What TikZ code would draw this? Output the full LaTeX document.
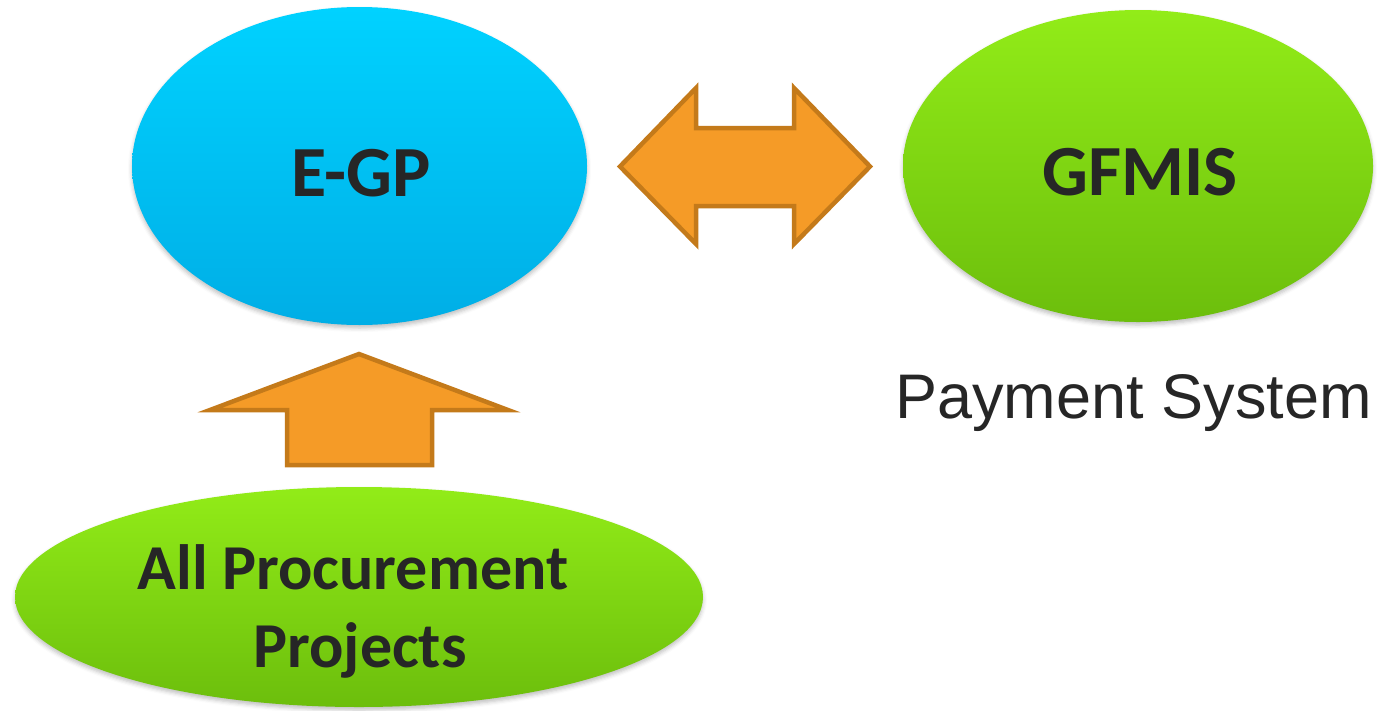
\documentclass[tikz,border=0pt]{standalone}
\usepackage{fontspec}
\setmainfont{Carlito}
\newfontfamily\arialfont{Liberation Sans}
\usetikzlibrary{shapes.geometric,shadows.blur}
\definecolor{txt}{HTML}{262626}
\definecolor{blueT}{HTML}{00D2FF}
\definecolor{blueB}{HTML}{00AEE6}
\definecolor{greenT}{HTML}{92EC18}
\definecolor{greenB}{HTML}{6CBE0C}
\definecolor{orFill}{HTML}{F59B27}
\definecolor{orLine}{HTML}{C47A1A}
\tikzset{
  blob/.style={ellipse, inner sep=0pt, draw=none,
    blur shadow={shadow xshift=0pt, shadow yshift=-3pt, shadow blur radius=4pt, shadow opacity=25}},
  bluebl/.style={blob, top color=blueT, bottom color=blueB},
  greenbl/.style={blob, top color=greenT, bottom color=greenB},
  biglbl/.style={anchor=base, inner sep=0pt, text=txt, font=\bfseries\fontsize{72}{80}\selectfont},
  midlbl/.style={anchor=base, inner sep=0pt, text=txt, font=\bfseries\fontsize{64}{70}\selectfont},
  blockarrow/.style={fill=orFill, draw=orLine, line width=4.5pt, line join=miter},
}
\begin{document}
\begin{tikzpicture}[x=1pt,y=-1pt]
\useasboundingbox (0,0) rectangle (1383,710);
\node[bluebl, minimum width=455pt, minimum height=318pt] (egp) at (359.5,166) {};
\node[greenbl, minimum width=470pt, minimum height=312pt] (gfmis) at (1138,166) {};
\node[greenbl, minimum width=688pt, minimum height=220pt] (app) at (359,597) {};
\node[biglbl] (egpt) at (361,196) {E-GP};
\node[biglbl] (gfmist) at (1140,195) {GFMIS};
\node[midlbl] (appt1) at (353,589) {All Procurement};
\node[midlbl] (appt2) at (360,667) {Projects};
\node[anchor=base, inner sep=0pt, text=txt, font=\arialfont\fontsize{63}{70}\selectfont] (pay) at (1133.5,418) {Payment System};
% double arrow
\draw[blockarrow] (620,166.5) -- (696,88) -- (696,128) -- (794,128) -- (794,88) -- (870,166.5)
  -- (794,244) -- (794,206) -- (696,206) -- (696,244) -- cycle;
% up arrow
\draw[blockarrow] (359,354) -- (508,410) -- (432,410) -- (432,465) -- (287,465) -- (287,410) -- (210,410) -- cycle;
\end{tikzpicture}
\end{document}
